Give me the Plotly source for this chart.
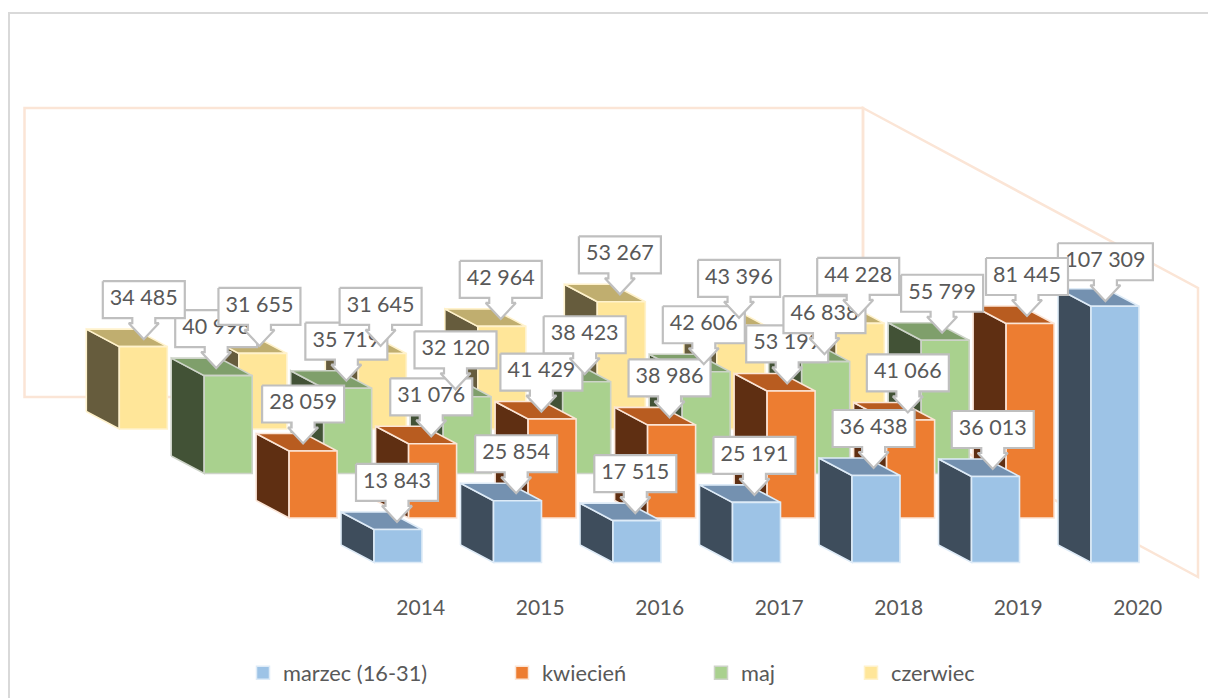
import plotly.graph_objects as go

years = ["2014", "2015", "2016", "2017", "2018", "2019", "2020"]
series_names = ["marzec (16-31)", "kwiecień", "maj", "czerwiec"]
marzec = [13843, 25854, 17515, 25191, 36438, 36013, 107309]
kwiecien = [28059, 31076, 41429, 38986, 53199, 41066, 81445]
maj = [40996, 35719, 32120, 38423, 42606, 46838, 55799]
czerwiec = [34485, 31655, 31645, 42964, 53267, 43396, 44228]
series_values = [marzec, kwiecien, maj, czerwiec]

front_colors = ["#9DC3E6", "#ED7D31", "#A9D18E", "#FFE699"]
side_colors = ["#3E4D5C", "#5F2F12", "#425236", "#665C3D"]
top_colors = ["#7491B0", "#B85C20", "#7F9F6B", "#C0AE6F"]
edge_colors = ["#DEEBF7", "#FBE5D6", "#CDD3C8", "#FFF2CC"]

W, H = 1208, 698
PLOT_BOTTOM = 590
FLOOR_PX = 562.5
CENTER_PX = 398.0
PITCH = 119.5
SERIES_DX = 84.9
SERIES_DY = 44.5
PX_PER_UNIT = 0.002388
BAR_W = 48.0
DEPTH_X, DEPTH_Y = 33.0, 17.5
BOX_H = 37.0
TIP_UP = 7.5
FONT = "Lato, Carlito, Calibri, sans-serif"
TEXT = "#595959"
WALL = "#FBE5D6"
# callouts that sit off-centre on their bars: (series, year index) -> (dx, dy) in pixels
LABEL_NUDGE = {
    (0, 6): (-6.5, -2.5),
    (1, 0): (-9.0, 0.0),
    (1, 2): (-9.0, 0.0),
    (1, 4): (-1.5, 0.0),
    (2, 0): (-11.0, 0.0),
    (2, 2): (-10.0, 0.0),
    (2, 5): (1.5, 0.0),
    (3, 0): (1.5, 0.0),
    (3, 1): (-2.0, 0.0),
    (3, 3): (1.0, 0.0),
    (3, 4): (1.0, 0.0),
    (3, 5): (1.0, 0.0),
    (3, 6): (1.0, 0.0),
}


def X(i, s=0, dpx=0.0):
    return i + (dpx - s * SERIES_DX) / PITCH


def Y(v, s=0, dpx=0.0):
    return v + (s * SERIES_DY + dpx) / PX_PER_UNIT


def paper_x(p):
    return p / W


def paper_y(p):
    return (PLOT_BOTTOM - p) / PLOT_BOTTOM


hw = BAR_W / 2
fig = go.Figure()


def add_face(xs, ys, fill, line, width=1.6):
    fig.add_trace(go.Scatter(x=xs, y=ys, mode="lines", fill="toself", fillcolor=fill,
                             line=dict(color=line, width=width), hoverinfo="skip",
                             showlegend=False))


# bars, back row first; each polygon is projected from its value
for s in range(3, -1, -1):
    vals = series_values[s]
    sx, sy, tx, ty, fx, fy = [], [], [], [], [], []
    for i, v in enumerate(vals):
        left = X(i, s, -hw)
        right = X(i, s, hw)
        bl = X(i, s, -hw - DEPTH_X)
        br = X(i, s, hw - DEPTH_X)
        y0 = Y(0, s)
        y1 = Y(v, s)
        y0b = Y(0, s, DEPTH_Y)
        y1b = Y(v, s, DEPTH_Y)
        sx += [bl, left, left, bl, bl, None]
        sy += [y0b, y0, y1, y1b, y0b, None]
        tx += [bl, br, right, left, bl, None]
        ty += [y1b, y1b, y1, y1, y1b, None]
        fx += [left, right, right, left, left, None]
        fy += [y0, y0, y1, y1, y0, None]
    add_face(sx, sy, side_colors[s], edge_colors[s])
    add_face(tx, ty, top_colors[s], edge_colors[s])
    add_face(fx, fy, front_colors[s], edge_colors[s])


def callout(box_w):
    bw = box_w / 2
    return [(-bw, 21 + BOX_H), (bw, 21 + BOX_H), (bw, 21), (11.5, 21), (11.5, 16), (15, 16),
            (0, 0), (-15, 16), (-11.5, 16), (-11.5, 21), (-bw, 21), (-bw, 21 + BOX_H)]


# data callouts, front row first so the back rows overlap them
for s in range(4):
    vals = series_values[s]
    cx, cy, lx, ly, lt = [], [], [], [], []
    for i, v in enumerate(vals):
        box_w = 82.0 + 13.0 * (len(str(v)) - 5)
        ndx, ndy = LABEL_NUDGE.get((s, i), (0.0, 0.0))
        shift = -1.0 - 0.35 * i + ndx
        up0 = TIP_UP + ndy
        for dx, up in callout(box_w):
            cx.append(X(i, s, dx + shift))
            cy.append(Y(v, s, up + up0))
        cx.append(None)
        cy.append(None)
        lx.append(X(i, s, shift))
        ly.append(Y(v, s, up0 + 21 + BOX_H / 2))
        lt.append(f"{v:,}".replace(",", " "))
    add_face(cx, cy, "#FFFFFF", "#BFBFBF", 2.2)
    fig.add_trace(go.Scatter(x=lx, y=ly, text=lt, mode="text", textposition="middle center",
                             textfont=dict(family=FONT, size=21.5, color=TEXT),
                             hoverinfo="skip", showlegend=False))

# legend entries
legend_ids = ["legend", "legend2", "legend3", "legend4"]
legend_px = [243, 502, 701, 851]
for s, name in enumerate(series_names):
    fig.add_trace(go.Scatter(x=[None], y=[None], name=name, mode="markers",
                             marker=dict(symbol="square", size=13, color=front_colors[s],
                                         line=dict(color=edge_colors[s], width=1.5)),
                             legend=legend_ids[s], showlegend=True, hoverinfo="skip"))

shapes = [
    dict(type="rect", xref="paper", yref="paper", x0=paper_x(9), x1=paper_x(W + 5),
         y0=paper_y(H + 5), y1=paper_y(13), line=dict(color="#D9D9D9", width=2), layer="below"),
    dict(type="path", xref="paper", yref="paper", layer="below", line=dict(color=WALL, width=2.5),
         path=(f"M{paper_x(24.5)},{paper_y(397)} L{paper_x(24.5)},{paper_y(108)} "
               f"L{paper_x(863)},{paper_y(108)} L{paper_x(863)},{paper_y(397)} Z")),
    dict(type="path", xref="paper", yref="paper", layer="below", line=dict(color=WALL, width=2.5),
         path=(f"M{paper_x(863)},{paper_y(108)} L{paper_x(1198)},{paper_y(288)} "
               f"L{paper_x(1198)},{paper_y(577)} L{paper_x(863)},{paper_y(397)} Z")),
]

layout_legends = {}
for s, lid in enumerate(legend_ids):
    layout_legends[lid] = dict(x=paper_x(legend_px[s]), y=paper_y(673), xanchor="left", yanchor="middle",
                               bgcolor="rgba(0,0,0,0)", borderwidth=0,
                               font=dict(family=FONT, size=21.8, color=TEXT))

fig.update_layout(
    width=W, height=H, margin=dict(l=0, r=0, t=0, b=H - PLOT_BOTTOM, autoexpand=False),
    paper_bgcolor="white", plot_bgcolor="rgba(0,0,0,0)", shapes=shapes, showlegend=True,
    xaxis=dict(range=[-CENTER_PX / PITCH, (W - CENTER_PX) / PITCH], showgrid=False, zeroline=False,
               showline=False, ticks="", tickmode="array", ticklabelstandoff=3,
               tickvals=[i + 0.19 for i in range(len(years))], ticktext=years,
               tickfont=dict(family=FONT, size=21, color=TEXT), fixedrange=True),
    yaxis=dict(range=[(FLOOR_PX - PLOT_BOTTOM) / PX_PER_UNIT, FLOOR_PX / PX_PER_UNIT], visible=False,
               fixedrange=True),
    **layout_legends,
)

fig.write_html("out.html", config={"displayModeBar": False},
               post_script="document.body.style.margin='0';")
